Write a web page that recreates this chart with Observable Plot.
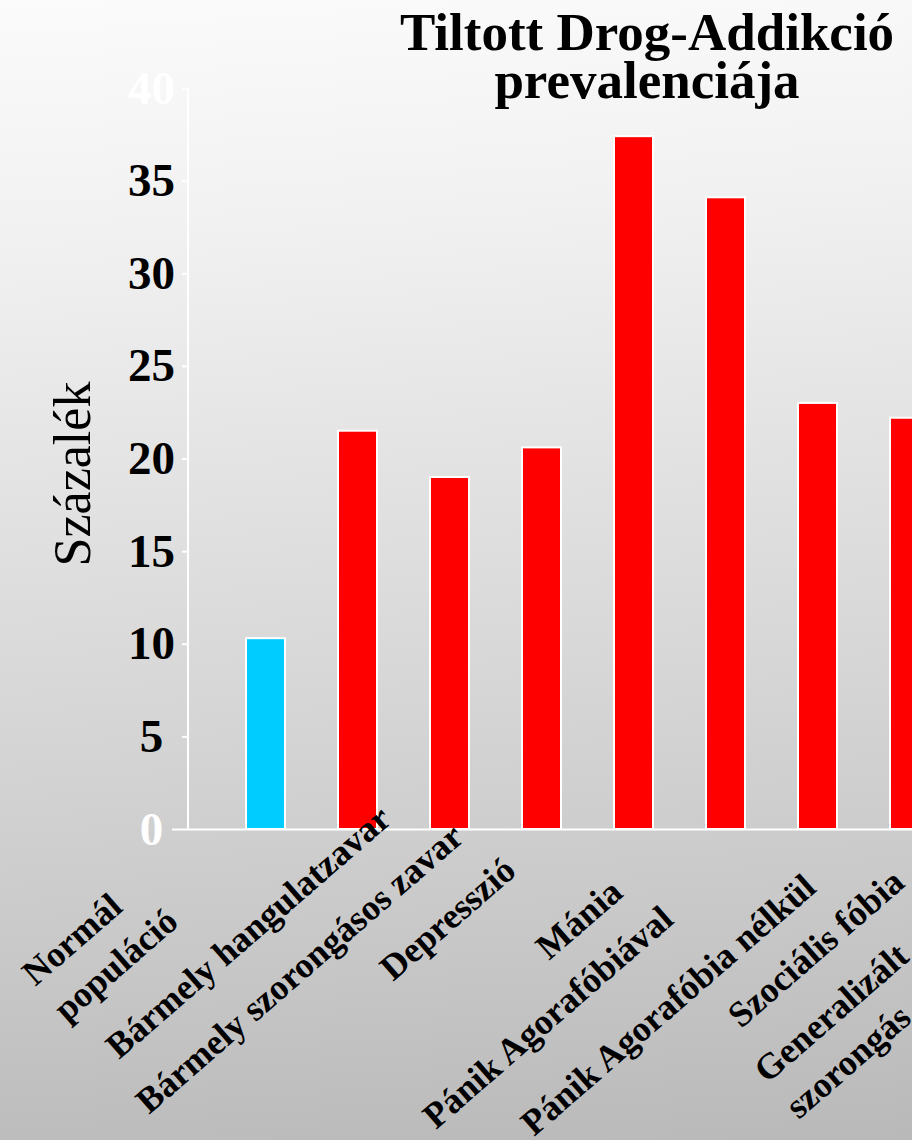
<!DOCTYPE html>
<html>
<head>
<meta charset="utf-8">
<script src="https://cdn.jsdelivr.net/npm/d3@7"></script>
<script src="https://cdn.jsdelivr.net/npm/@observablehq/plot@0.6"></script>
<style>
  html, body { margin: 0; padding: 0; overflow: hidden; }
  #wrap {
    position: relative; width: 912px; height: 1140px; overflow: hidden;
    background: linear-gradient(176deg, #fbfbfb 0%, #f1f1f1 20%, #e2e2e2 42%, #d6d6d6 60%, #c8c8c8 80%, #b9b9b9 100%);
  }
  #title {
    position: absolute; left: 397px; top: 8px; width: 500px; text-align: center;
    font-family: "Liberation Serif", "Times New Roman", serif; font-weight: bold;
    font-size: 53px; line-height: 48px; color: #000;
  }
  #chart { position: absolute; left: 0; top: 0; }
</style>
</head>
<body>
<div id="wrap">
  <div id="chart"></div>
  <div id="title">Tiltott Drog-Addikció<br>prevalenciája</div>
</div>
<script>
// ---- data ----
const categories = [
  "Normál\npopuláció",
  "Bármely hangulatzavar",
  "Bármely szorongásos zavar",
  "Depresszió",
  "Mánia",
  "Pánik Agorafóbiával",
  "Pánik Agorafóbia nélkül",
  "Szociális fóbia",
  "Generalizált\nszorongás"
];
const values = [10.3, 21.5, 19.0, 20.6, 37.4, 34.1, 23.0, 22.2, null]; // last bar is off the visible area
const groups = ["normal", "disorder", "disorder", "disorder", "disorder", "disorder", "disorder", "disorder", "disorder"];
const yTicks = [0, 5, 10, 15, 20, 25, 30, 35, 40];
const yLabel = "Százalék";

// ---- layout (label placement offsets, in pixels, relative to band centre at y = 0) ----
const labelOffsets = [
  [-225, 164], [-249, 219], [-311, 274], [-159, 141], [-95, 120],
  [-300, 289], [-294, 296], [-179, 188], [-229, 261]
];

const data = categories.map((c, i) => ({cat: c, value: values[i], group: groups[i], i}));
const serif = "Liberation Serif, Times New Roman, serif";

const yAxisLine = (index, scales, values, dimensions) => {
  const {marginLeft, marginTop, marginBottom, height} = dimensions;
  return d3.create("svg:line")
    .attr("x1", marginLeft).attr("x2", marginLeft)
    .attr("y1", marginTop).attr("y2", height - marginBottom)
    .attr("stroke", "white").attr("stroke-width", 2).node();
};

const chart = Plot.plot({
  width: 912,
  height: 1140,
  marginLeft: 188,
  marginRight: 0,
  marginTop: 88,
  marginBottom: 311,
  style: {background: "transparent", overflow: "hidden"},
  x: {domain: categories, range: [219, 1047], paddingInner: 0.58, paddingOuter: 0.29, axis: null},
  y: {domain: [0, 40], axis: null},
  color: {domain: ["normal", "disorder"], range: ["#00ccff", "#ff0000"]},
  marks: [
    Plot.barY(data.filter(d => d.value != null), {x: "cat", y: "value", fill: "group", stroke: "white", strokeWidth: 2}),
    Plot.ruleY([0], {stroke: "white", strokeWidth: 2}),
    yAxisLine,
    Plot.axisY({ticks: yTicks.filter(d => d > 0), tickSize: 6, tickFormat: () => "", stroke: "white", strokeWidth: 2, label: null}),
    Plot.axisY({ticks: [0], tickSize: 16, tickFormat: () => "", stroke: "white", strokeWidth: 2, label: null}),
    Plot.text(yTicks, {
      y: d => d, text: d => String(d), frameAnchor: "left", dx: -37, textAnchor: "middle",
      fill: d => (d === 0 || d === 40) ? "white" : "black",
      fontSize: 47, fontWeight: "bold", fontFamily: serif
    }),
    Plot.text([yLabel], {
      text: d => d, frameAnchor: "left", dx: -115, dy: 15, rotate: -90, textAnchor: "middle",
      fill: "black", fontSize: 52, fontFamily: serif
    }),
    ...data.map((d, i) => Plot.text([d], {
      x: "cat", y: () => 0, text: "cat",
      dx: labelOffsets[i][0], dy: labelOffsets[i][1],
      rotate: -41, textAnchor: "start", lineAnchor: "middle", lineHeight: 1.33,
      fill: "black", fontSize: 36, fontWeight: "bold", fontFamily: serif
    }))
  ]
});
document.getElementById("chart").appendChild(chart);
</script>
</body>
</html>
